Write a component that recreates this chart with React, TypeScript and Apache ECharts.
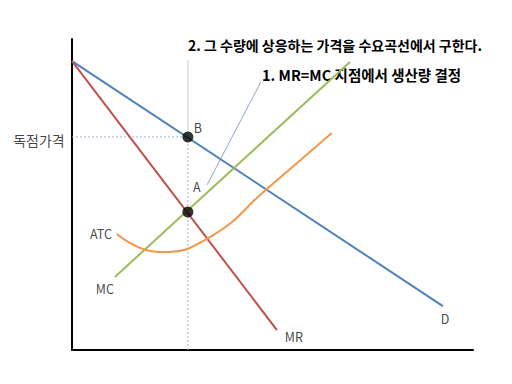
import React, { useEffect, useRef } from "react";
import * as echarts from "echarts";

// Curves (quantity, price)
const demand: number[][] = [[0, 9.29], [9.25, 1.41]];
const marginalRevenue: number[][] = [[0, 9.29], [5.11, 0.64]];
const marginalCost: number[][] = [[1.07, 2.35], [6.93, 9.26]];
const averageTotalCost: number[][] = [
  [1.12, 3.73], [2.19, 3.15], [3.44, 3.63], [4.86, 5.18], [6.48, 6.98],
];
// Key values
const quantityStar = 2.89;
const monopolyPrice = 6.85;
const mcAtQuantity = 4.44;
const guideTop = 9.32;
const noteLine: number[][] = [[4.71, 8.62], [3.37, 5.31]];

// Texts
const priceLabel = "독점가격";
const pointLabels = ["A", "B"];
const curveNames = ["D", "MR", "MC", "ATC"];
const note2 = "2. 그 수량에 상응하는 가격을 수요곡선에서 구한다.";
const note1 = "1. MR=MC 지점에서 생산량 결정";

const FONT = "'Noto Sans CJK KR', 'Noto Sans', sans-serif";

export default function App() {
  const ref = useRef<HTMLDivElement>(null);
  useEffect(() => {
    if (!ref.current) return;
    const chart = echarts.init(ref.current, null, { renderer: "svg" });
    const labelStyle = { color: "#111", fontSize: 12.5, fontFamily: FONT };
    const lbl = (value: number[], text: string, offset: number[], extra: any = {}) => ({
      value,
      label: { show: true, position: "inside", formatter: text, offset, ...labelStyle, ...extra },
    });
    chart.setOption({
      animation: false,
      backgroundColor: "#ffffff",
      grid: { left: 72, right: 39, top: 39, bottom: 34 },
      xAxis: {
        type: "value", min: 0, max: 10,
        axisLine: { show: true, lineStyle: { color: "#000", width: 2 } },
        axisTick: { show: false }, axisLabel: { show: false }, splitLine: { show: false },
      },
      yAxis: {
        type: "value", min: 0, max: 10,
        axisLine: { show: true, lineStyle: { color: "#000", width: 2 } },
        axisTick: { show: false }, axisLabel: { show: false }, splitLine: { show: false },
      },
      graphic: [
        {
          type: "text", left: 188, top: 38,
          style: { text: note2, fontSize: 14, fontWeight: "bold", fontFamily: FONT, fill: "#000" },
        },
        {
          type: "text", left: 262, top: 67,
          style: { text: note1, fontSize: 14.5, fontWeight: "bold", fontFamily: FONT, fill: "#000" },
        },
      ],
      series: [
        {
          type: "line", symbol: "none", silent: true, z: 1,
          lineStyle: { color: "#9fb4cc", width: 1, type: [2, 2] },
          data: [[quantityStar, 0], [quantityStar, monopolyPrice]],
        },
        {
          type: "line", symbol: "none", silent: true, z: 1,
          lineStyle: { color: "#c2d0e0", width: 1 },
          data: [[quantityStar, monopolyPrice], [quantityStar, guideTop]],
        },
        {
          type: "line", symbol: "none", silent: true, z: 1,
          lineStyle: { color: "#9fb4cc", width: 1, type: [2, 2] },
          data: [[0, monopolyPrice], [quantityStar, monopolyPrice]],
        },
        {
          type: "line", symbol: "none", silent: true, z: 1,
          lineStyle: { color: "#8ea8c8", width: 1 },
          data: noteLine,
        },
        { name: "D", type: "line", symbol: "none", z: 2, lineStyle: { color: "#4f81bd", width: 2 }, data: demand },
        { name: "MR", type: "line", symbol: "none", z: 2, lineStyle: { color: "#c0504d", width: 2 }, data: marginalRevenue },
        { name: "MC", type: "line", symbol: "none", z: 2, lineStyle: { color: "#9bbb59", width: 2 }, data: marginalCost },
        {
          name: "ATC", type: "line", symbol: "none", smooth: 0.5, z: 2,
          lineStyle: { color: "#f79646", width: 2 }, data: averageTotalCost,
        },
        {
          type: "scatter", symbol: "circle", symbolSize: 11, z: 5,
          itemStyle: { color: "#000" },
          data: [[quantityStar, mcAtQuantity], [quantityStar, monopolyPrice]],
        },
        {
          type: "scatter", symbolSize: 0, z: 6, silent: true,
          data: [
            lbl([quantityStar, mcAtQuantity], pointLabels[0], [9, -25]),
            lbl([quantityStar, monopolyPrice], pointLabels[1], [10, -9]),
            lbl(demand[demand.length - 1], curveNames[0], [2, 12]),
            lbl(marginalRevenue[marginalRevenue.length - 1], curveNames[1], [17, 6]),
            lbl(marginalCost[0], curveNames[2], [-10, 12]),
            lbl(averageTotalCost[0], curveNames[3], [-16, 0]),
            lbl([0, monopolyPrice], priceLabel, [-33, 3], { fontSize: 14 }),
          ],
        },
      ],
    });
    return () => chart.dispose();
  }, []);
  return (
    <div
      ref={ref}
      style={{ position: "fixed", left: 0, top: 0, width: 512, height: 384, background: "#fff" }}
    />
  );
}
